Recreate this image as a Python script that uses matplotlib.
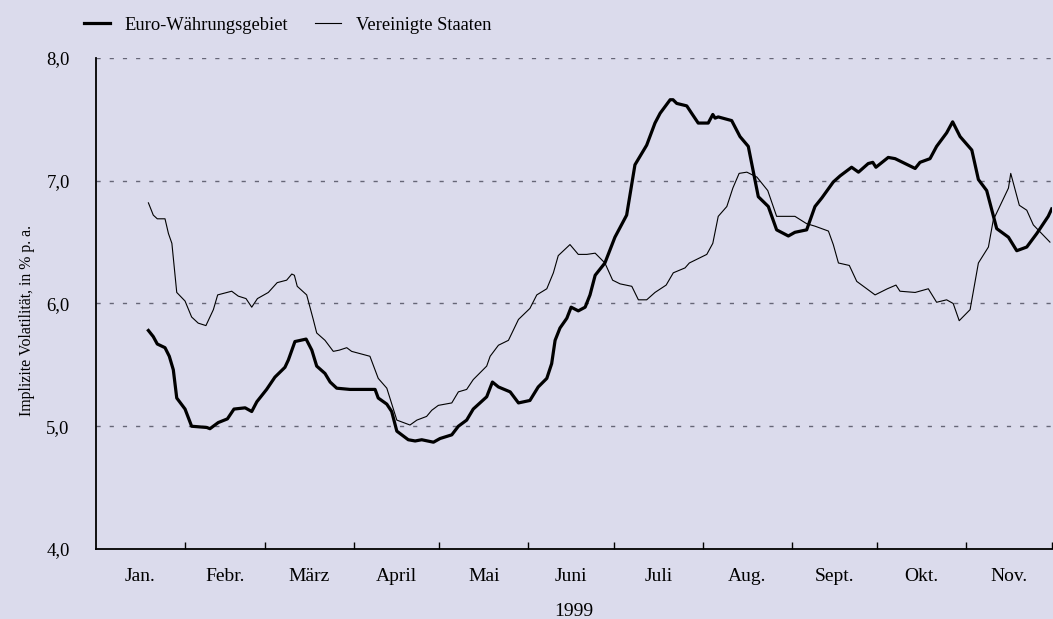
import numpy as np
import matplotlib
matplotlib.use('Agg')
import matplotlib.pyplot as plt
from matplotlib.ticker import FixedLocator, FuncFormatter

# days since 1 Jan 1999, implied volatility in % p.a.
euro_day = [18.3, 20.0, 21.4, 24.1, 25.6, 27.0, 28.2, 31.1, 33.4, 38.7, 39.8, 42.7,
            45.9, 48.2, 52.1, 54.4, 56.2, 59.6, 62.5, 66.0, 67.2, 69.5, 73.4, 75.4,
            77.1, 80.0, 81.8, 84.1, 88.7, 97.5, 98.6, 101.6, 103.3, 105.1, 109.1, 111.5,
            113.8, 117.9, 120.2, 124.3, 126.6, 129.5, 131.8, 136.5, 138.5, 140.6, 144.7, 147.6,
            151.6, 154.5, 157.5, 159.2, 160.4, 162.1, 164.5, 166.0, 168.5, 170.9, 172.6, 174.4,
            177.8, 181.3, 185.4, 188.3, 192.4, 195.3, 197.1, 200.6, 201.6, 202.9, 206.4, 208.1,
            210.4, 213.9, 215.5, 216.3, 217.4, 222.1, 225.0, 227.9, 231.4, 234.9, 237.8, 241.9,
            244.2, 248.3, 251.2, 253.6, 257.6, 260.0, 264.0, 266.4, 269.8, 271.4, 272.5, 276.8,
            279.2, 282.7, 286.2, 287.9, 291.4, 293.7, 297.2, 299.3, 301.9, 306.0, 308.3, 311.2,
            314.7, 318.8, 321.7, 325.2, 328.7, 332.7, 333.9]
euro_vol = [5.78, 5.73, 5.67, 5.64, 5.57, 5.46, 5.23, 5.14, 5.00, 4.99, 4.98, 5.03,
            5.06, 5.14, 5.15, 5.12, 5.20, 5.30, 5.40, 5.48, 5.54, 5.69, 5.71, 5.62,
            5.49, 5.43, 5.36, 5.31, 5.30, 5.30, 5.23, 5.18, 5.12, 4.96, 4.89, 4.88,
            4.89, 4.87, 4.90, 4.93, 5.00, 5.05, 5.14, 5.24, 5.36, 5.32, 5.28, 5.19,
            5.21, 5.32, 5.39, 5.51, 5.70, 5.80, 5.88, 5.97, 5.94, 5.97, 6.07, 6.23,
            6.33, 6.54, 6.72, 7.13, 7.29, 7.47, 7.55, 7.66, 7.66, 7.63, 7.61, 7.55,
            7.47, 7.47, 7.54, 7.51, 7.52, 7.49, 7.36, 7.28, 6.87, 6.79, 6.60, 6.55,
            6.58, 6.60, 6.79, 6.86, 6.99, 7.04, 7.11, 7.07, 7.14, 7.15, 7.11, 7.19,
            7.18, 7.14, 7.10, 7.15, 7.18, 7.28, 7.39, 7.48, 7.36, 7.25, 7.01, 6.92,
            6.61, 6.54, 6.43, 6.46, 6.57, 6.71, 6.77]

us_day = [18.3, 20.0, 21.4, 24.1, 25.3, 26.5, 28.2, 31.1, 33.4, 35.7, 38.4, 41.0,
          42.5, 47.4, 49.7, 52.4, 54.4, 56.4, 60.2, 63.3, 66.6, 68.4, 69.3, 70.3,
          73.6, 75.9, 77.1, 80.0, 82.9, 85.0, 87.6, 89.3, 95.7, 98.6, 101.6, 105.1,
          109.7, 112.1, 115.5, 117.3, 119.6, 124.3, 126.6, 129.5, 131.8, 136.5, 137.7, 140.6,
          144.1, 147.6, 151.6, 154.0, 157.5, 159.8, 161.5, 165.6, 168.5, 171.5, 174.4, 177.8,
          180.5, 183.1, 187.2, 189.5, 192.4, 195.3, 199.2, 201.7, 205.8, 207.3, 213.4, 215.5,
          217.4, 220.4, 222.5, 224.7, 227.4, 230.9, 234.7, 237.8, 244.2, 248.3, 251.2, 255.9,
          257.6, 259.4, 263.2, 265.8, 269.3, 272.2, 276.5, 279.5, 280.9, 286.2, 290.8, 293.7,
          297.2, 299.5, 301.6, 305.4, 308.3, 311.8, 313.5, 318.8, 319.6, 322.6, 325.2, 327.5,
          333.3]
us_vol = [6.82, 6.72, 6.69, 6.69, 6.57, 6.49, 6.09, 6.02, 5.89, 5.84, 5.82, 5.95,
          6.07, 6.10, 6.06, 6.04, 5.97, 6.04, 6.09, 6.17, 6.19, 6.24, 6.23, 6.14,
          6.07, 5.87, 5.76, 5.70, 5.61, 5.62, 5.64, 5.61, 5.57, 5.39, 5.31, 5.05,
          5.01, 5.05, 5.08, 5.13, 5.17, 5.19, 5.28, 5.30, 5.38, 5.49, 5.57, 5.66,
          5.70, 5.87, 5.96, 6.07, 6.12, 6.25, 6.39, 6.48, 6.40, 6.40, 6.41, 6.33,
          6.19, 6.16, 6.14, 6.03, 6.03, 6.09, 6.15, 6.25, 6.29, 6.33, 6.40, 6.49,
          6.71, 6.79, 6.94, 7.06, 7.07, 7.03, 6.92, 6.71, 6.71, 6.65, 6.63, 6.59,
          6.48, 6.33, 6.31, 6.18, 6.12, 6.07, 6.12, 6.15, 6.10, 6.09, 6.12, 6.01,
          6.03, 6.00, 5.86, 5.95, 6.33, 6.46, 6.68, 6.94, 7.06, 6.80, 6.76, 6.64,
          6.50]

month_start = [0, 31, 59, 90, 120, 151, 181, 212, 243, 273, 304, 334]
month_names = ['Jan.', 'Febr.', 'März', 'April', 'Mai', 'Juni', 'Juli', 'Aug.',
               'Sept.', 'Okt.', 'Nov.']

bg = '#dbdbec'
plt.rcParams['font.family'] = ['Liberation Serif', 'DejaVu Serif']

fig = plt.figure(figsize=(10.53, 6.19), dpi=100, facecolor=bg)
ax = fig.add_axes([0.0912, 0.1131, 0.9078, 0.7932], facecolor=bg)

ax.plot(euro_day, euro_vol, color='black', lw=2.3, label='Euro-Währungsgebiet')
ax.plot(us_day, us_vol, color='black', lw=0.8, label='Vereinigte Staaten')

ax.set_xlim(0, 334)
ax.set_ylim(4.0, 8.0)

# dashed grid
for v in [5, 6, 7, 8]:
    ax.axhline(v, color='#666677', lw=1.0, dashes=(3, 6.5), zorder=0)

ax.set_yticks([4, 5, 6, 7, 8])
ax.yaxis.set_major_formatter(FuncFormatter(lambda v, p: ('%.1f' % v).replace('.', ',')))
ax.tick_params(axis='y', length=0, pad=19, labelsize=13.5)

ax.xaxis.set_major_locator(FixedLocator(month_start[1:]))
ax.xaxis.set_major_formatter(FuncFormatter(lambda v, p: ''))
mids = [(month_start[i] + month_start[i + 1]) / 2 for i in range(len(month_names))]
ax.set_xticks(mids, minor=True)
ax.set_xticklabels(month_names, minor=True)
ax.tick_params(axis='x', which='major', direction='in', length=5, width=1)
ax.tick_params(axis='x', which='minor', length=0, pad=14, labelsize=14)

ax.set_xlabel('1999', fontsize=14, labelpad=13)
ax.set_ylabel('Implizite Volatilität, in % p. a.', fontsize=11.4)
ax.yaxis.set_label_coords(-0.064, 0.466)

for s in ['top', 'right']:
    ax.spines[s].set_visible(False)
for s in ['left', 'bottom']:
    ax.spines[s].set_linewidth(1.3)

fig.legend(loc='upper left', bbox_to_anchor=(0.064, 1.0), ncol=2, frameon=False,
           fontsize=13.3, handlelength=1.4, handletextpad=0.8, columnspacing=1.45)

fig.savefig('out.png', dpi=100, facecolor=bg)
